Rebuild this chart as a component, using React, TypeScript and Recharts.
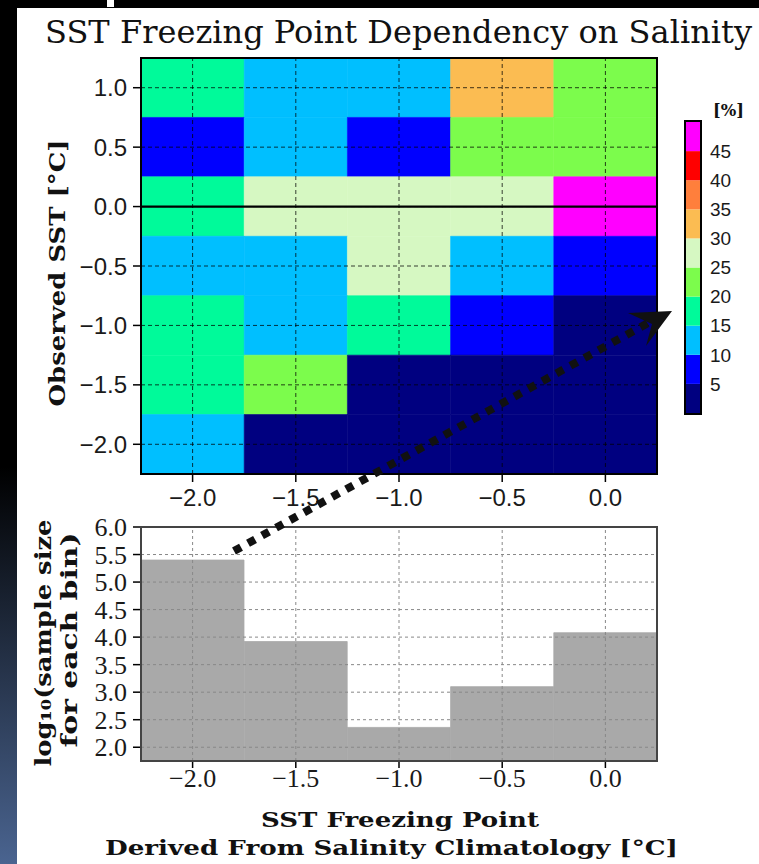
import { ComposedChart, BarChart, Bar, XAxis, YAxis, ReferenceArea, ReferenceLine } from 'recharts';

// bin centres [°C]
const freezeBins = [-2.0, -1.5, -1.0, -0.5, 0.0];
const sstBins = [1.0, 0.5, 0.0, -0.5, -1.0, -1.5, -2.0];
const binHalf = 0.25;

// percentage per bin; rows follow sstBins, columns follow freezeBins
const pctGrid = [
  [17.5, 12.5, 12.5, 32.5, 22.5],
  [7.5, 12.5, 7.5, 22.5, 22.5],
  [17.5, 27.5, 27.5, 27.5, 47.5],
  [12.5, 12.5, 27.5, 12.5, 7.5],
  [17.5, 12.5, 17.5, 7.5, 2.5],
  [17.5, 22.5, 2.5, 2.5, 2.5],
  [12.5, 2.5, 2.5, 2.5, 2.5],
];

// log10 of sample count per freezing-point bin
const logSampleSize = [5.4, 3.92, 2.36, 3.1, 4.08];

const pctLevels = [0, 5, 10, 15, 20, 25, 30, 35, 40, 45, 50];
const levelColors = ['#000080', '#0000ff', '#00bfff', '#00fa9a', '#7cfc4c', '#d6f8c2', '#fbbc52', '#ff7f3c', '#ff0000', '#ff00ff'];

const sstTicks = [-2.0, -1.5, -1.0, -0.5, 0.0, 0.5, 1.0];
const freezeTicks = [-2.0, -1.5, -1.0, -0.5, 0.0];
const logTicks = [2.0, 2.5, 3.0, 3.5, 4.0, 4.5, 5.0, 5.5, 6.0];
const cbTicks = [5, 10, 15, 20, 25, 30, 35, 40, 45];

const fmt = (v: number) => v.toFixed(1).replace('-', '\u2212');

function colorFor(v: number) {
  for (let i = 0; i < levelColors.length; i++) {
    if (v >= pctLevels[i] && v < pctLevels[i + 1]) return levelColors[i];
  }
  return levelColors[levelColors.length - 1];
}

const heatCells = sstBins.flatMap((y, r) => freezeBins.map((x, c) => ({ x, y, pct: pctGrid[r][c] })));
const histData = freezeBins.map((b, i) => ({ bin: fmt(b), logN: logSampleSize[i] }));
const cbRow: Record<string, number | string> = { name: 'pct' };
levelColors.forEach((_, i) => { cbRow['s' + i] = pctLevels[i + 1] - pctLevels[i]; });
const cbData = [cbRow];

const sansTick = { fontFamily: 'Liberation Sans, Arial, sans-serif', fontSize: 24, fill: '#1a1a1a' };
const serifTick = { fontFamily: 'Liberation Serif, serif', fontSize: 26, fill: '#1a1a1a' };
const labelFont = 'DejaVu Serif, serif';

function HeatMap() {
  return (
    <ComposedChart width={759} height={520} data={heatCells} margin={{ top: 58, right: 102, bottom: 0, left: 61 }}>
      <XAxis type="number" dataKey="x" domain={[-2.25, 0.25]} ticks={freezeTicks} tickFormatter={fmt} interval={0}
        allowDataOverflow height={46} tickSize={8} tickMargin={7} tick={sansTick}
        tickLine={{ stroke: '#000', strokeWidth: 1.5 }} axisLine={false} />
      <YAxis type="number" dataKey="y" domain={[-2.25, 1.25]} ticks={sstTicks} tickFormatter={fmt} interval={0}
        allowDataOverflow width={80} tickSize={8} tickMargin={6} tick={sansTick}
        tickLine={{ stroke: '#000', strokeWidth: 1.5 }} axisLine={false} />
      {heatCells.map((d, i) => (
        <ReferenceArea key={i} x1={d.x - binHalf} x2={d.x + binHalf} y1={d.y - binHalf} y2={d.y + binHalf}
          fill={colorFor(d.pct)} fillOpacity={1} stroke={colorFor(d.pct)} strokeWidth={0.6} />
      ))}
      {freezeTicks.map((t) => (
        <ReferenceLine key={'vx' + t} x={t} stroke="#000" strokeOpacity={0.75} strokeDasharray="4 3" strokeWidth={1} />
      ))}
      {sstTicks.map((t) => (
        <ReferenceLine key={'hy' + t} y={t} stroke="#000" strokeOpacity={0.75} strokeDasharray="4 3" strokeWidth={1} />
      ))}
      <ReferenceLine y={0} stroke="#000" strokeWidth={2.2} />
    </ComposedChart>
  );
}

function Histogram() {
  return (
    <BarChart width={759} height={300} data={histData} barCategoryGap={0} barGap={0}
      margin={{ top: 27, right: 102, bottom: 3, left: 61 }}>
      <XAxis dataKey="bin" type="category" height={36} tickSize={7} tickMargin={1} tick={serifTick} interval={0}
        tickLine={{ stroke: '#000', strokeWidth: 1.5 }} axisLine={false} />
      <YAxis type="number" domain={[1.75, 6]} ticks={logTicks} tickFormatter={(v: number) => v.toFixed(1)} interval={0}
        allowDataOverflow width={80} tickSize={8} tickMargin={6} tick={serifTick}
        tickLine={{ stroke: '#000', strokeWidth: 1.5 }} axisLine={false} />
      <Bar dataKey="logN" fill="#a9a9a9" stroke="#a9a9a9" strokeWidth={0.8} isAnimationActive={false} />
      {histData.map((d) => (
        <ReferenceLine key={'vx' + d.bin} x={d.bin} stroke="#888" strokeDasharray="3 3" strokeWidth={1} />
      ))}
      {logTicks.map((t) => (
        <ReferenceLine key={'hy' + t} y={t} stroke="#888" strokeDasharray="3 3" strokeWidth={1} />
      ))}
    </BarChart>
  );
}

function ColorBar() {
  return (
    <BarChart width={60} height={291} data={cbData} barCategoryGap={0} margin={{ top: 0, right: 0, bottom: 0, left: 0 }}>
      <XAxis dataKey="name" type="category" hide />
      <YAxis orientation="right" type="number" domain={[0, 50]} ticks={cbTicks} width={46} interval={0}
        tickSize={0} tickMargin={10} axisLine={false} tickLine={false}
        tick={{ fontFamily: 'Liberation Sans, Arial, sans-serif', fontSize: 19, fill: '#1a1a1a' }} />
      {levelColors.map((c, i) => (
        <Bar key={i} dataKey={'s' + i} stackId="cb" fill={c} isAnimationActive={false} />
      ))}
    </BarChart>
  );
}

export default function App() {
  return (
    <div style={{ position: 'absolute', left: 0, top: 0, width: 759, height: 864, background: '#000', overflow: 'hidden' }}>
      <div style={{ position: 'absolute', left: 17, top: 8, right: 0, bottom: 0, background: '#fff' }} />
      <div style={{ position: 'absolute', left: 0, top: 0, width: 17, height: 864, background: 'linear-gradient(to bottom, #000 0%, #000 54%, #4a6490 100%)' }} />
      <div style={{ position: 'absolute', left: 107, top: 0, width: 7, height: 7, background: '#fff' }} />

      <div style={{ position: 'absolute', left: 0, top: 0 }}><HeatMap /></div>
      <div style={{ position: 'absolute', left: 0, top: 500 }}><Histogram /></div>
      <div style={{ position: 'absolute', left: 686, top: 122 }}><ColorBar /></div>

      <div style={{ position: 'absolute', left: 140, top: 57, width: 518, height: 418, border: '2px solid #000', boxSizing: 'border-box' }} />
      <div style={{ position: 'absolute', left: 140, top: 526, width: 518, height: 236, border: '2px solid #444', boxSizing: 'border-box' }} />
      <div style={{ position: 'absolute', left: 684, top: 120, width: 18, height: 295, border: '2px solid #000', boxSizing: 'border-box' }} />

      <svg width={759} height={864} style={{ position: 'absolute', left: 0, top: 0, pointerEvents: 'none' }}>
        <text x={45} y={43} fontFamily={labelFont} fontSize={31} fill="#111" textLength={707} lengthAdjust="spacingAndGlyphs">
          SST Freezing Point Dependency on Salinity
        </text>
        <text transform="translate(57,273) rotate(-90)" textAnchor="middle" dominantBaseline="central"
          fontFamily={labelFont} fontWeight="bold" fontSize={22} fill="#111" textLength={267} lengthAdjust="spacingAndGlyphs">
          Observed SST [°C]
        </text>
        <text transform="translate(43,643) rotate(-90)" textAnchor="middle" dominantBaseline="central"
          fontFamily={labelFont} fontWeight="bold" fontSize={22} fill="#111" textLength={247} lengthAdjust="spacingAndGlyphs">
          log₁₀(sample size
        </text>
        <text transform="translate(69,640) rotate(-90)" textAnchor="middle" dominantBaseline="central"
          fontFamily={labelFont} fontWeight="bold" fontSize={22} fill="#111" textLength={215} lengthAdjust="spacingAndGlyphs">
          for each bin)
        </text>
        <text x={261} y={827} fontFamily={labelFont} fontWeight="bold" fontSize={21} fill="#111" textLength={278} lengthAdjust="spacingAndGlyphs">
          SST Freezing Point
        </text>
        <text x={105} y={855} fontFamily={labelFont} fontWeight="bold" fontSize={21} fill="#111" textLength={573} lengthAdjust="spacingAndGlyphs">
          Derived From Salinity Climatology [°C]
        </text>
        <text x={713} y={116} fontFamily={labelFont} fontWeight="bold" fontSize={17} fill="#111" textLength={31} lengthAdjust="spacingAndGlyphs">
          [%]
        </text>
        <line x1={234} y1={551} x2={648} y2={323} stroke="#111" strokeWidth={8} strokeDasharray="8 8" />
        <polygon points="672,311 628,313 652,324 646,346" fill="#111" />
      </svg>
    </div>
  );
}
